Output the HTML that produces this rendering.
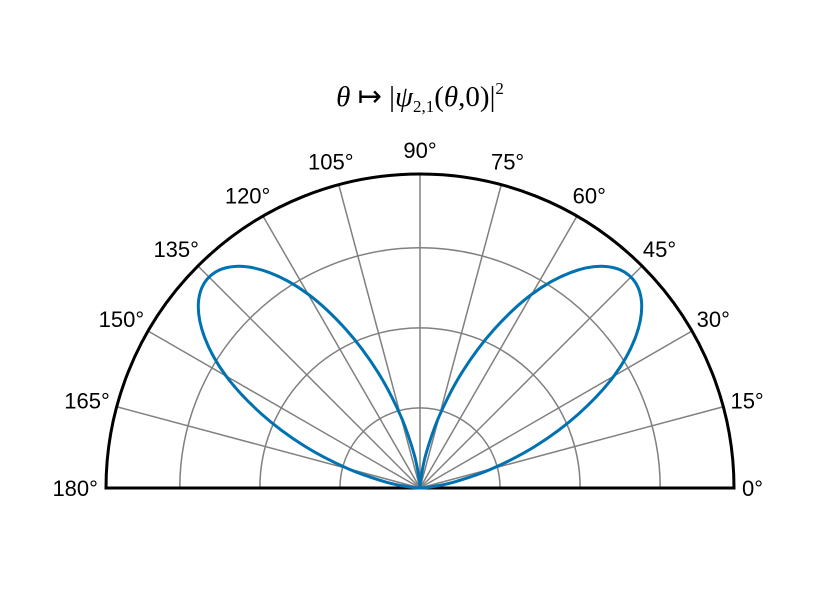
<!DOCTYPE html>
<html><head><meta charset="utf-8"><style>
body{margin:0;background:#fff}
svg text{font-family:"Liberation Sans",sans-serif;font-size:22px;fill:#000}
</style></head><body>
<svg id="c" width="840" height="600" viewBox="0 0 840 600">
<text x="420" y="106" text-anchor="middle" style="font-family:'Liberation Serif',serif;font-size:29px"><tspan font-style="italic">θ</tspan> ↦ |<tspan font-style="italic">ψ</tspan><tspan font-size="17" dy="6">2,1</tspan><tspan dy="-6">(</tspan><tspan font-style="italic">θ</tspan>,0)|<tspan font-size="17" dy="-12">2</tspan></text>
<g id="grid"></g><g id="series"></g><g id="labels"></g>
</svg>
<script>
const angleTicks=[0,15,30,45,60,75,90,105,120,135,150,165,180];
const radialGrid=[0.255,0.51,0.765];
const thetaDeg=[0,5,10,15,20,25,30,35,40,45,50,55,60,65,70,75,80,85,90,95,100,105,110,115,120,125,130,135,140,145,150,155,160,165,170,175,180];
const rValues=[0,0.029,0.112,0.238,0.393,0.556,0.713,0.838,0.921,0.95,0.921,0.838,0.713,0.556,0.393,0.238,0.112,0.029,0,0.029,0.112,0.238,0.393,0.556,0.713,0.838,0.921,0.95,0.921,0.838,0.713,0.556,0.393,0.238,0.112,0.029,0];
const cx=420,cy=488,R=314,NS="http://www.w3.org/2000/svg";
function px(r,t){const a=t*Math.PI/180;return [cx+r*R*Math.cos(a),cy-r*R*Math.sin(a)];}
function mk(tag,attrs,parent){const e=document.createElementNS(NS,tag);for(const k in attrs)e.setAttribute(k,attrs[k]);document.getElementById(parent).appendChild(e);return e;}
radialGrid.forEach(r=>{const a=px(r,0),b=px(r,180);
 const e=mk('path',{d:`M${a[0]},${a[1]} A${r*R},${r*R} 0 0 0 ${b[0]},${b[1]}`,fill:'none',stroke:'#808080','stroke-width':1.5},'grid');
 
 });
angleTicks.forEach(t=>{if(t===0||t===180)return;const p=px(1,t);
 const e=mk('line',{x1:cx,y1:cy,x2:p[0],y2:p[1],stroke:'#808080','stroke-width':1.5},'grid');
 
 });
const a0=px(1,0),a1=px(1,180);
const arc=mk('path',{d:`M${a0[0]},${a0[1]} A${R},${R} 0 0 0 ${a1[0]},${a1[1]} Z`,fill:'none',stroke:'#000','stroke-width':3},'grid');


const pts=thetaDeg.map((t,i)=>px(rValues[i],t));
let d='M'+pts[0][0]+','+pts[0][1];
for(let i=0;i<pts.length-1;i++){
 const p0=pts[Math.max(0,i-1)],p1=pts[i],p2=pts[i+1],p3=pts[Math.min(pts.length-1,i+2)];
 const c1=[p1[0]+(p2[0]-p0[0])/6,p1[1]+(p2[1]-p0[1])/6],c2=[p2[0]-(p3[0]-p1[0])/6,p2[1]-(p3[1]-p1[1])/6];
 d+=`C${c1[0].toFixed(2)},${c1[1].toFixed(2)} ${c2[0].toFixed(2)},${c2[1].toFixed(2)} ${p2[0].toFixed(2)},${p2[1].toFixed(2)}`;}
const ln=mk('path',{d:d,fill:'none',stroke:'#0072b2','stroke-width':3,'stroke-linejoin':'round'},'series');


angleTicks.forEach(t=>{const p=px(1,t);const a=t*Math.PI/180;const c=Math.cos(a),s=Math.sin(a);
 const tx=mk('text',{x:p[0],y:p[1],'text-anchor':'middle'},'labels');
 tx.textContent=t+'°';
 
 
 const w=tx.getComputedTextLength();
 tx.setAttribute('x',(p[0]+c*(8+w/2)).toFixed(1));
 tx.setAttribute('y',(p[1]-s*24+8).toFixed(1));});
</script>
</body></html>
